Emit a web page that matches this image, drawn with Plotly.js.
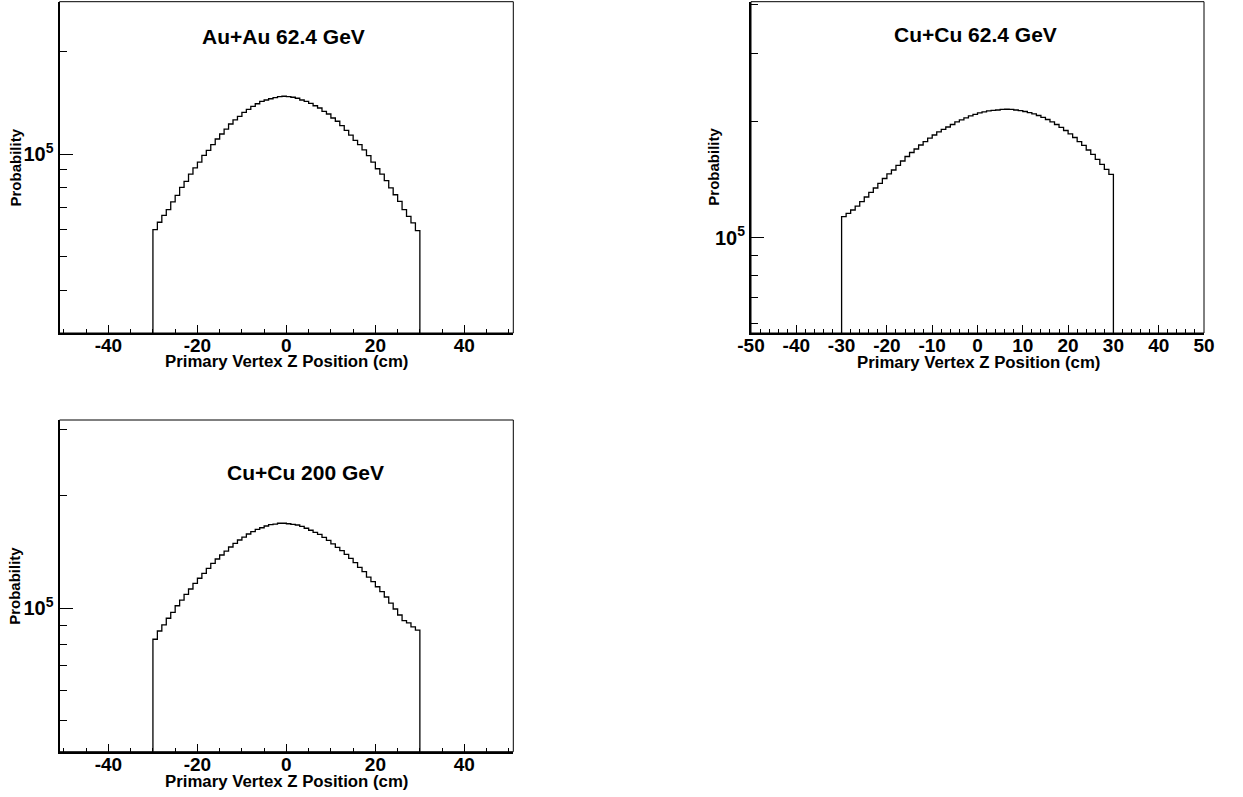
<!DOCTYPE html>
<html>
<head>
<meta charset="utf-8">
<script src="https://cdn.plot.ly/plotly-3.0.1.min.js"></script>
<style>
html,body{margin:0;padding:0;background:#fff;}
#chart{width:1243px;height:797px;}
</style>
</head>
<body>
<div id="chart"></div>
<script>
// ---- data (histogram contents, 1 cm bins from -30 to +30 cm) ----
const binLow = -30;
const binWidth = 1;

const auAu62 = [
  60100, 63200, 66200, 68800, 72500, 75800, 80000, 83300, 87500, 91200,
  94900, 99300, 102700, 106700, 110900, 114700, 118600, 122700, 126100, 129200,
  132800, 135500, 138300, 140700, 143000, 144300, 145500, 146600, 147600, 148000,
  147600, 147000, 146000, 144300, 143000, 141100, 138800, 136700, 133700, 131300,
  127800, 125000, 121300, 117600, 113900, 109900, 106700, 103000, 99100, 94900,
  90700, 87500, 83700, 79700, 76100, 72800, 68800, 65800, 62900, 59700
];

const cuCu62 = [
  113300, 115500, 117900, 120700, 124000, 127400, 130900, 134400, 138100, 142200,
  146100, 149600, 153700, 157800, 162100, 166000, 169500, 173600, 177200, 180900,
  184200, 187600, 190400, 193200, 196100, 199100, 201500, 203900, 206400, 208200,
  210100, 211300, 212600, 213200, 213800, 214500, 214700, 214500, 213800, 212900,
  211900, 210400, 208800, 206900, 204700, 202000, 199100, 196100, 192700, 189200,
  185400, 181500, 177200, 173100, 168500, 164100, 159300, 154600, 150100, 145800
];

const cuCu200 = [
  82500, 86800, 90100, 93900, 97400, 101400, 105000, 108800, 112400, 116400,
  120100, 123800, 127700, 131700, 135200, 138600, 142000, 145600, 148900, 152000,
  154800, 157700, 160000, 162300, 163900, 165700, 167000, 167700, 168500, 168500,
  168000, 167400, 166700, 165400, 163400, 161400, 159400, 157400, 154500, 151700,
  148500, 145300, 142300, 139200, 135800, 132200, 128500, 125100, 121000, 117600,
  114000, 110600, 107000, 103000, 99400, 95800, 92500, 91200, 89000, 87300
];

const panelTitles = ['Au+Au 62.4 GeV', 'Cu+Cu 62.4 GeV', 'Cu+Cu 200 GeV'];
const xTitle = 'Primary Vertex Z Position (cm)';
const yTitle = 'Probability';
const xTickVals20 = [-40, -20, 0, 20, 40];
const xTickText20 = ['-40', '-20', '0', '20', '40'];
const xTickVals10 = [-50, -40, -30, -20, -10, 0, 10, 20, 30, 40, 50];
const xTickText10 = ['-50', '-40', '-30', '-20', '-10', '0', '10', '20', '30', '40', '50'];
const yMajorTicks = [1e5];
const yMajorText = ['10<sup>5</sup>'];
const yMinorTicks = [2e4, 3e4, 4e4, 5e4, 6e4, 7e4, 8e4, 9e4, 2e5, 3e5, 4e5, 5e5, 6e5, 7e5, 8e5, 9e5];

// ---- build step outlines ----
function outline(counts) {
  const xs = [binLow], ys = [1];
  for (let i = 0; i < counts.length; i++) {
    xs.push(binLow + i * binWidth);
    ys.push(counts[i]);
  }
  const hi = binLow + counts.length * binWidth;
  xs.push(hi); ys.push(counts[counts.length - 1]);
  xs.push(hi); ys.push(1);
  return {xs, ys};
}

const FONT = 'Liberation Sans, Arial, Helvetica, sans-serif';
const series = [auAu62, cuCu62, cuCu200];
const traces = series.map((c, k) => {
  const o = outline(c);
  return {
    x: o.xs, y: o.ys, type: 'scatter', mode: 'lines',
    line: {shape: 'hv', color: '#000', width: 1.3},
    xaxis: 'x' + (k ? k + 1 : ''), yaxis: 'y' + (k ? k + 1 : ''),
    hoverinfo: 'skip', showlegend: false
  };
});

function xax(domain, range, vals, text, minorDtick) {
  return {
    domain: domain, range: range, showgrid: false, zeroline: false,
    showline: true, linecolor: '#000', linewidth: 2,
    ticks: 'inside', ticklen: 8, tickwidth: 1, tickcolor: '#000',
    tickmode: 'array', tickvals: vals, ticktext: text,
    ticklabelstandoff: -6,
    tickfont: {family: FONT, size: 19, color: '#000', weight: 'bold'},
    minor: {ticks: 'inside', ticklen: 4, tickwidth: 1, tickcolor: '#000', dtick: minorDtick, tick0: 0, showgrid: false},
    fixedrange: true
  };
}
function yax(domain, range) {
  return {
    type: 'log', domain: domain, range: range, showgrid: false, zeroline: false,
    showline: true, linecolor: '#000', linewidth: 2,
    ticks: 'inside', ticklen: 13, tickwidth: 1, tickcolor: '#000',
    tickmode: 'array', tickvals: yMajorTicks, ticktext: yMajorText,
    tickfont: {family: FONT, size: 20, color: '#000', weight: 'bold'},
    minor: {ticks: 'inside', ticklen: 7, tickwidth: 1, tickcolor: '#000', tickmode: 'array', tickvals: yMinorTicks, showgrid: false},
    fixedrange: true
  };
}

const W = 1243, H = 797;
const px = v => v / W, py = v => (H - v) / H;

const layout = {
  width: W, height: H,
  margin: {l: 0, r: 0, t: 0, b: 0},
  paper_bgcolor: '#fff', plot_bgcolor: '#fff',
  font: {family: FONT, color: '#000'},
  xaxis:  Object.assign(xax([px(59.5), px(513.3)], [-51, 51], xTickVals20, xTickText20, 5), {anchor: 'y'}),
  yaxis:  Object.assign(yax([py(333), py(1.7)], [4.476, 5.4475]), {anchor: 'x'}),
  xaxis2: Object.assign(xax([px(751), px(1204)], [-50, 50], xTickVals10, xTickText10, 2), {anchor: 'y2'}),
  yaxis2: Object.assign(yax([py(333), py(1.7)], [4.7537, 5.6098]), {anchor: 'x2'}),
  xaxis3: Object.assign(xax([px(59.5), px(513.3)], [-51, 51], xTickVals20, xTickText20, 5), {anchor: 'y3'}),
  yaxis3: Object.assign(yax([py(751.7), py(420)], [4.6158, 5.5027]), {anchor: 'x3'}),
  shapes: ['', '2', '3'].map(s => ({
    type: 'rect', xref: 'x' + s + ' domain', yref: 'y' + s + ' domain',
    x0: 0, x1: 1, y0: 0, y1: 1, line: {color: '#000', width: 1}, fillcolor: 'rgba(0,0,0,0)'
  })),
  annotations: [
    {text: panelTitles[0], x: px(283.7), y: py(36)},
    {text: panelTitles[1], x: px(975), y: py(35)},
    {text: panelTitles[2], x: px(305), y: py(472.7)}
  ].map(a => Object.assign(a, {xref: 'paper', yref: 'paper', showarrow: false, xanchor: 'center', yanchor: 'middle',
      font: {family: FONT, size: 21, color: '#000', weight: 'bold'}}))
  .concat([
    {x: px(286), y: py(361.5)},
    {x: px(978), y: py(362.5)},
    {x: px(286), y: py(781)}
  ].map(a => Object.assign(a, {text: xTitle, xref: 'paper', yref: 'paper', showarrow: false, xanchor: 'center', yanchor: 'middle',
      font: {family: FONT, size: 16.8, color: '#000', weight: 'bold'}})))
  .concat([
    {x: px(15), y: py(167.5)},
    {x: px(714), y: py(166.7)},
    {x: px(15), y: py(585.8)}
  ].map(a => Object.assign(a, {text: yTitle, textangle: -90, xref: 'paper', yref: 'paper', showarrow: false, xanchor: 'center', yanchor: 'middle',
      font: {family: FONT, size: 15, color: '#000', weight: 'bold'}})))
};

Plotly.newPlot('chart', traces, layout, {displayModeBar: false, staticPlot: true});
</script>
</body>
</html>
